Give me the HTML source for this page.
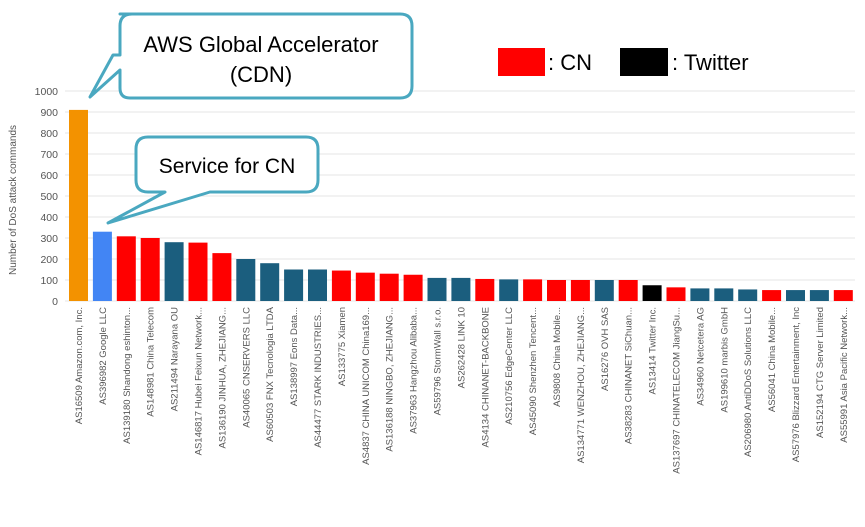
<!DOCTYPE html>
<html><head><meta charset="utf-8"><style>body{margin:0;background:#fff}svg{display:block}</style></head><body>
<svg width="865" height="527" xmlns="http://www.w3.org/2000/svg" font-family="Liberation Sans, sans-serif">
<g id="grid" stroke="#e6e6e6" stroke-width="1"></g>
<g id="bars"></g>
<g id="labs" font-size="9.5" fill="#555"></g>
<text transform="translate(16,200) rotate(-90)" text-anchor="middle" font-size="10" fill="#555">Number of DoS attack commands</text>
<path d="M120,14 H400 Q412,14 412,26 V86 Q412,98 400,98 H130 Q120,98 120,88 V70 L90,97 L113,55 L120,55 V26 Q120,14 132,14 Z" fill="#fff" stroke="#4aa8c0" stroke-width="3" stroke-linejoin="round"/>
<text x="261" y="52" text-anchor="middle" font-size="22">AWS Global Accelerator</text>
<text x="261" y="82" text-anchor="middle" font-size="22">(CDN)</text>
<path d="M148,137 H306 Q318,137 318,149 V180 Q318,192 306,192 H210 L108,223 L165,192 H148 Q136,192 136,180 V149 Q136,137 148,137 Z" fill="#fff" stroke="#4aa8c0" stroke-width="3" stroke-linejoin="round"/>
<text x="227" y="173" text-anchor="middle" font-size="21">Service for CN</text>
<rect x="498" y="48" width="47" height="28" fill="#ff0000"/>
<text x="548" y="70" font-size="22">: CN</text>
<rect x="620" y="48" width="48" height="28" fill="#000"/>
<text x="672" y="70" font-size="22">: Twitter</text>
<script>
const v=[910,330,308,300,280,278,228,200,180,150,150,145,135,130,125,110,110,105,103,103,100,100,100,100,75,65,60,60,55,52,52,52,52];
const c="obrrtrrttttrrrrttrtrrrtrkrtttrttr";
const col={o:"#f39200",b:"#4285f4",r:"#ff0000",t:"#1b5e7e",k:"#000"};
const n=["AS16509 Amazon.com, Inc.","AS396982 Google LLC","AS139180 Shandong eshinton...","AS148981 China Telecom","AS211494 Narayana OU","AS146817 Hubei Feixun Network...","AS136190 JINHUA, ZHEJIANG...","AS40065 CNSERVERS LLC","AS60503 FNX Tecnologia LTDA","AS138997 Eons Data...","AS44477 STARK INDUSTRIES...","AS133775 Xiamen","AS4837 CHINA UNICOM China169...","AS136188 NINGBO, ZHEJIANG...","AS37963 Hangzhou Alibaba...","AS59796 StormWall s.r.o.","AS262428 LINK 10","AS4134 CHINANET-BACKBONE","AS210756 EdgeCenter LLC","AS45090 Shenzhen Tencent...","AS9808 China Mobile...","AS134771 WENZHOU, ZHEJIANG...","AS16276 OVH SAS","AS38283 CHINANET SiChuan...","AS13414 Twitter Inc.","AS137697 CHINATELECOM JiangSu...","AS34960 Netcetera AG","AS199610 marbis GmbH","AS206980 AntiDDoS Solutions LLC","AS56041 China Mobile...","AS57976 Blizzard Entertainment, Inc","AS152194 CTG Server Limited","AS55991 Asia Pacific Network..."];
const ns="http://www.w3.org/2000/svg";
const svg=document.querySelector("svg");
const y0=301,k=0.21;
for(let i=0;i<=10;i++){const y=y0-i*100*k;
 let l=document.createElementNS(ns,"line");l.setAttribute("x1",65);l.setAttribute("x2",855);l.setAttribute("y1",y);l.setAttribute("y2",y);document.getElementById("grid").appendChild(l);
 let t=document.createElementNS(ns,"text");t.setAttribute("x",58);t.setAttribute("y",y+4);t.setAttribute("text-anchor","end");t.setAttribute("font-size","10.5");t.setAttribute("fill","#555");t.textContent=i*100;svg.appendChild(t);}
v.forEach((val,i)=>{const x=69+i*23.9;
 let r=document.createElementNS(ns,"rect");r.setAttribute("x",x);r.setAttribute("y",y0-val*k);r.setAttribute("width",19);r.setAttribute("height",val*k);r.setAttribute("fill",col[c[i]]);document.getElementById("bars").appendChild(r);
 let t=document.createElementNS(ns,"text");t.setAttribute("transform",`translate(${x+13},307) rotate(-90)`);t.setAttribute("text-anchor","end");t.textContent=n[i];document.getElementById("labs").appendChild(t);});
</script>
</svg>
</body></html>
